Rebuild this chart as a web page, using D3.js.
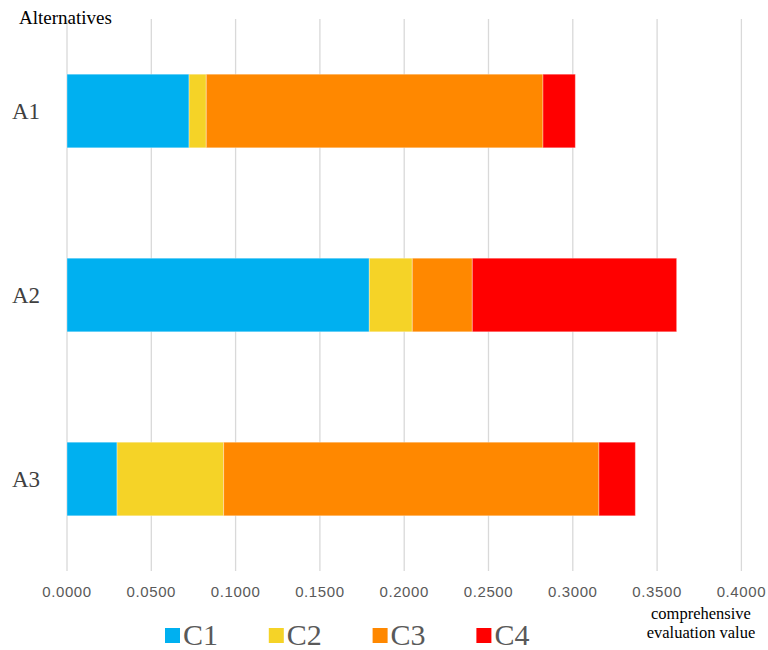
<!DOCTYPE html>
<html>
<head>
<meta charset="utf-8">
<script src="https://cdn.jsdelivr.net/npm/d3@7/dist/d3.min.js"></script>
<style>
  html, body { margin: 0; padding: 0; background: #fff; }
  svg { display: block; }
</style>
</head>
<body>
<div id="chart"></div>
<script>
// Alternatives (rows) and criteria (stack segments)
const alternatives = ['A1', 'A2', 'A3'];
const criteria = ['C1', 'C2', 'C3', 'C4'];
const c1Values = [0.0724, 0.1793, 0.0297];
const c2Values = [0.0102, 0.0255, 0.0632];
const c3Values = [0.1997, 0.0356, 0.2226];
const c4Values = [0.0192, 0.1212, 0.0216];
const xTicks = [0, 0.05, 0.1, 0.15, 0.2, 0.25, 0.3, 0.35, 0.4];
const colors = ['#00B0F0', '#F5D327', '#FF8800', '#FF0000'];

const width = 768, height = 650;
const margin = { top: 19, right: 27, bottom: 79, left: 67 };

const svg = d3.select('#chart').append('svg')
  .attr('width', width)
  .attr('height', height);

// Build rows for the stack
const rows = alternatives.map((name, i) => ({
  name,
  C1: c1Values[i],
  C2: c2Values[i],
  C3: c3Values[i],
  C4: c4Values[i]
}));

const x = d3.scaleLinear()
  .domain([0, 0.4])
  .range([margin.left, margin.left + 8 * 84.3]);

const y = d3.scaleBand()
  .domain(alternatives)
  .range([margin.top, height - margin.bottom])
  .paddingInner(0.6)
  .paddingOuter(0.3);

// Vertical gridlines
svg.append('g')
  .selectAll('line')
  .data(xTicks)
  .join('line')
  .attr('x1', d => x(d))
  .attr('x2', d => x(d))
  .attr('y1', margin.top)
  .attr('y2', height - margin.bottom)
  .attr('stroke', '#D9D9D9')
  .attr('stroke-width', 1.3);

// Tick labels
svg.append('g')
  .selectAll('text')
  .data(xTicks)
  .join('text')
  .attr('x', d => x(d))
  .attr('y', 597)
  .attr('text-anchor', 'middle')
  .attr('fill', '#595959')
  .attr('font-size', '15px')
  .attr('letter-spacing', '0.6px')
  .attr('font-family', '"Liberation Sans", Arial, sans-serif')
  .text(d => d3.format('.4f')(d));

// Stacked bars
const series = d3.stack().keys(criteria)(rows);

svg.append('g')
  .selectAll('g')
  .data(series)
  .join('g')
  .attr('fill', (d, i) => colors[i])
  .selectAll('rect')
  .data(d => d)
  .join('rect')
  .attr('x', d => x(d[0]))
  .attr('y', d => y(d.data.name))
  .attr('width', d => x(d[1]) - x(d[0]))
  .attr('height', y.bandwidth())
  .attr('stroke', '#ffffff')
  .attr('stroke-opacity', 0.35)
  .attr('stroke-width', 1);

// Category labels
svg.append('g')
  .selectAll('text')
  .data(alternatives)
  .join('text')
  .attr('x', 12)
  .attr('y', d => y(d) + y.bandwidth() / 2 + 8)
  .attr('fill', '#404040')
  .attr('font-size', '23px')
  .attr('font-family', '"Liberation Serif", "Times New Roman", serif')
  .text(d => d);

// Axis titles
svg.append('text')
  .attr('x', 19)
  .attr('y', 24)
  .attr('fill', '#000')
  .attr('font-size', '19px')
  .attr('font-family', '"Liberation Serif", "Times New Roman", serif')
  .text('Alternatives');

svg.append('text')
  .attr('x', 701)
  .attr('y', 619)
  .attr('text-anchor', 'middle')
  .attr('fill', '#000')
  .attr('font-size', '16.5px')
  .attr('font-family', '"Liberation Serif", "Times New Roman", serif')
  .text('comprehensive');

svg.append('text')
  .attr('x', 701)
  .attr('y', 638)
  .attr('text-anchor', 'middle')
  .attr('fill', '#000')
  .attr('font-size', '16.5px')
  .attr('font-family', '"Liberation Serif", "Times New Roman", serif')
  .text('evaluation value');

// Legend
const legend = svg.append('g')
  .selectAll('g')
  .data(criteria)
  .join('g')
  .attr('transform', (d, i) => `translate(${165 + i * 103.8}, 628)`);

legend.append('rect')
  .attr('width', 15)
  .attr('height', 15)
  .attr('fill', (d, i) => colors[i]);

legend.append('text')
  .attr('x', 18)
  .attr('y', 17)
  .attr('fill', '#595959')
  .attr('font-size', '30px')
  .attr('font-family', '"Liberation Serif", "Times New Roman", serif')
  .text(d => d);
</script>
</body>
</html>
